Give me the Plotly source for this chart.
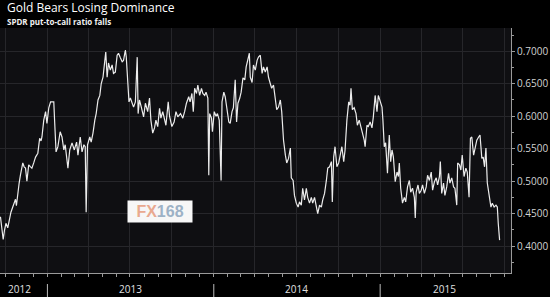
import plotly.graph_objects as go

title = "Gold Bears Losing Dominance"
subtitle = "SPDR put-to-call ratio falls"

dates = [
    "2012-09-20", "2012-09-23", "2012-09-26", "2012-09-29", "2012-10-02", "2012-10-06", "2012-10-10", "2012-10-13",
    "2012-10-17", "2012-10-21", "2012-10-23", "2012-10-25", "2012-10-28", "2012-10-31", "2012-11-03", "2012-11-06",
    "2012-11-08", "2012-11-11", "2012-11-14", "2012-11-17", "2012-11-21", "2012-11-25", "2012-11-28", "2012-12-02",
    "2012-12-06", "2012-12-11", "2012-12-15", "2012-12-18", "2012-12-20", "2012-12-24", "2012-12-28", "2012-12-31",
    "2013-01-04", "2013-01-08", "2013-01-11", "2013-01-15", "2013-01-17", "2013-01-20", "2013-01-24", "2013-01-27",
    "2013-01-29", "2013-02-02", "2013-02-06", "2013-02-09", "2013-02-13", "2013-02-15", "2013-02-19", "2013-02-24",
    "2013-03-01", "2013-03-06", "2013-03-09", "2013-03-14", "2013-03-18", "2013-03-22", "2013-03-25", "2013-03-27",
    "2013-03-30", "2013-04-04", "2013-04-07", "2013-04-11", "2013-04-15", "2013-04-18", "2013-04-22", "2013-04-26",
    "2013-04-29", "2013-05-03", "2013-05-07", "2013-05-09", "2013-05-12", "2013-05-15", "2013-05-19", "2013-05-23",
    "2013-05-26", "2013-05-30", "2013-06-03", "2013-06-06", "2013-06-10", "2013-06-14", "2013-06-17", "2013-06-21",
    "2013-06-23", "2013-06-26", "2013-06-29",
    "2013-07-02", "2013-07-06", "2013-07-09", "2013-07-13", "2013-07-17", "2013-07-19", "2013-07-22", "2013-07-26",
    "2013-07-31", "2013-08-04", "2013-08-09", "2013-08-13", "2013-08-16", "2013-08-20", "2013-08-24", "2013-08-27",
    "2013-08-31", "2013-09-04", "2013-09-07", "2013-09-11", "2013-09-14", "2013-09-18", "2013-09-23", "2013-09-26",
    "2013-10-01", "2013-10-06", "2013-10-10", "2013-10-14", "2013-10-20", "2013-10-25", "2013-10-29", "2013-11-02",
    "2013-11-07", "2013-11-10", "2013-11-14", "2013-11-17", "2013-11-20", "2013-11-24", "2013-11-27", "2013-12-01",
    "2013-12-05", "2013-12-08", "2013-12-12", "2013-12-15", "2013-12-19", "2013-12-21", "2013-12-23", "2013-12-27",
    "2013-12-29", "2014-01-02", "2014-01-06", "2014-01-09", "2014-01-13", "2014-01-17", "2014-01-19", "2014-01-23",
    "2014-01-26", "2014-01-30", "2014-02-03", "2014-02-06", "2014-02-10", "2014-02-13", "2014-02-17", "2014-02-20",
    "2014-02-23", "2014-02-27", "2014-03-02", "2014-03-06", "2014-03-10", "2014-03-13", "2014-03-16", "2014-03-20",
    "2014-03-22", "2014-03-26", "2014-03-29", "2014-04-02", "2014-04-06", "2014-04-09", "2014-04-13", "2014-04-17",
    "2014-04-20", "2014-04-24", "2014-04-28", "2014-05-01", "2014-05-05", "2014-05-08", "2014-05-12", "2014-05-16",
    "2014-05-19", "2014-05-23", "2014-05-27", "2014-05-30", "2014-06-03", "2014-06-07", "2014-06-10", "2014-06-14",
    "2014-06-18", "2014-06-20", "2014-06-24", "2014-06-27", "2014-07-01", "2014-07-05", "2014-07-08", "2014-07-12",
    "2014-07-15", "2014-07-19", "2014-07-23", "2014-07-26", "2014-07-30", "2014-08-03", "2014-08-06", "2014-08-10",
    "2014-08-14", "2014-08-17", "2014-08-21", "2014-08-25", "2014-08-28", "2014-09-01", "2014-09-05", "2014-09-08",
    "2014-09-12", "2014-09-16", "2014-09-18", "2014-09-21", "2014-09-24", "2014-09-28", "2014-10-02", "2014-10-05",
    "2014-10-09", "2014-10-13", "2014-10-16", "2014-10-20", "2014-10-24", "2014-10-27", "2014-10-29", "2014-11-01",
    "2014-11-05", "2014-11-09", "2014-11-12", "2014-11-16", "2014-11-20", "2014-11-23", "2014-11-27", "2014-11-29",
    "2014-12-03", "2014-12-06", "2014-12-10", "2014-12-14", "2014-12-17",
    "2014-12-21", "2014-12-25", "2014-12-28", "2015-01-01", "2015-01-05", "2015-01-07", "2015-01-10", "2015-01-13",
    "2015-01-17", "2015-01-21", "2015-01-24", "2015-01-27", "2015-01-30", "2015-02-03", "2015-02-07", "2015-02-10",
    "2015-02-12", "2015-02-15", "2015-02-19", "2015-02-23", "2015-02-26", "2015-03-02", "2015-03-06", "2015-03-09",
    "2015-03-13", "2015-03-17", "2015-03-19", "2015-03-21", "2015-03-25", "2015-03-28", "2015-04-01", "2015-04-04",
    "2015-04-08", "2015-04-12", "2015-04-15", "2015-04-19", "2015-04-23", "2015-04-26", "2015-04-30", "2015-05-04",
    "2015-05-07", "2015-05-11", "2015-05-13", "2015-05-16", "2015-05-20", "2015-05-23", "2015-05-27", "2015-05-31",
    "2015-06-03", "2015-06-07", "2015-06-11", "2015-06-14", "2015-06-18", "2015-06-20", "2015-06-24", "2015-06-27",
    "2015-06-30", "2015-07-04", "2015-07-08", "2015-07-11", "2015-07-15", "2015-07-18", "2015-07-21", "2015-07-25",
    "2015-07-28", "2015-08-01", "2015-08-05", "2015-08-08", "2015-08-12", "2015-08-15", "2015-08-18", "2015-08-21",
    "2015-08-24", "2015-08-28", "2015-09-01", "2015-09-04", "2015-09-08", "2015-09-12", "2015-09-15", "2015-09-17",
    "2015-09-20",
]

ratio = [
    0.445, 0.430, 0.410, 0.425, 0.435, 0.428, 0.445, 0.452,
    0.460, 0.468, 0.472, 0.462, 0.485, 0.497, 0.510, 0.520,
    0.528, 0.522, 0.520, 0.500, 0.525, 0.522, 0.520, 0.528,
    0.537, 0.543, 0.566, 0.562, 0.568, 0.594, 0.607, 0.589,
    0.613, 0.622, 0.622, 0.622, 0.590, 0.545, 0.553, 0.565,
    0.576, 0.568, 0.548, 0.556, 0.532, 0.520, 0.548, 0.559,
    0.548, 0.560, 0.540, 0.568, 0.545, 0.556, 0.553, 0.452,
    0.556, 0.568, 0.560, 0.574, 0.594, 0.604, 0.625, 0.632,
    0.650, 0.660, 0.686, 0.699, 0.660, 0.682, 0.671, 0.679,
    0.666, 0.668, 0.694, 0.697, 0.690, 0.684, 0.686, 0.702,
    0.691, 0.656, 0.622,
    0.628, 0.620, 0.614, 0.622, 0.691, 0.604, 0.625, 0.614,
    0.599, 0.620, 0.607, 0.628, 0.594, 0.574, 0.582, 0.594,
    0.584, 0.612, 0.597, 0.607, 0.599, 0.586, 0.622, 0.600,
    0.584, 0.591, 0.607, 0.599, 0.604, 0.597, 0.607, 0.620,
    0.630, 0.622, 0.635, 0.607, 0.643, 0.635, 0.648, 0.632,
    0.643, 0.635, 0.632, 0.637, 0.628, 0.509, 0.604, 0.597,
    0.576, 0.607, 0.600, 0.604, 0.594, 0.501, 0.622, 0.637,
    0.630, 0.607, 0.591, 0.589, 0.607, 0.613, 0.656, 0.591,
    0.620, 0.628, 0.637, 0.659, 0.656, 0.676, 0.686, 0.697,
    0.660, 0.652, 0.679, 0.671, 0.686, 0.691, 0.694, 0.666,
    0.676, 0.668, 0.676, 0.660, 0.650, 0.643, 0.648, 0.628,
    0.610, 0.614, 0.625, 0.607, 0.563, 0.540, 0.528, 0.535,
    0.551, 0.505, 0.501, 0.478, 0.466, 0.460, 0.468, 0.463,
    0.489, 0.471, 0.489, 0.475, 0.466, 0.475, 0.466, 0.475,
    0.460, 0.450, 0.463, 0.460, 0.471, 0.481, 0.501, 0.520,
    0.522, 0.530, 0.468, 0.537, 0.553, 0.522, 0.528, 0.540,
    0.553, 0.530, 0.548, 0.594, 0.622, 0.617, 0.643, 0.610,
    0.613, 0.604, 0.586, 0.594, 0.584, 0.574, 0.563, 0.553,
    0.586, 0.584, 0.591, 0.582, 0.599,
    0.632, 0.607, 0.632, 0.622, 0.614, 0.594, 0.553, 0.559,
    0.512, 0.571, 0.530, 0.548, 0.537, 0.499, 0.514, 0.507,
    0.528, 0.489, 0.466, 0.475, 0.468, 0.491, 0.501, 0.483,
    0.489, 0.475, 0.443, 0.483, 0.494, 0.481, 0.486, 0.494,
    0.481, 0.491, 0.509, 0.501, 0.514, 0.486, 0.499, 0.505,
    0.494, 0.507, 0.530, 0.481, 0.497, 0.478, 0.491, 0.512,
    0.497, 0.505, 0.491, 0.489, 0.463, 0.528, 0.525, 0.517,
    0.540, 0.507, 0.520, 0.514, 0.475, 0.566, 0.568, 0.540,
    0.548, 0.563, 0.568, 0.571, 0.535, 0.537, 0.522, 0.551,
    0.497, 0.475, 0.460, 0.466, 0.460, 0.463, 0.460, 0.435,
    0.409,
]

y_ticks = [0.40, 0.45, 0.50, 0.55, 0.60, 0.65, 0.70]
year_labels = ["2012", "2013", "2014", "2015"]
year_label_dates = ["2012-11-01", "2013-07-02", "2014-07-02", "2015-05-23"]
year_bounds = ["2013-01-01", "2014-01-01", "2015-01-01"]

fig = go.Figure()
fig.add_trace(go.Scatter(
    x=dates, y=ratio, mode="lines",
    line=dict(color="#ececec", width=1.2),
    hoverinfo="skip", showlegend=False,
))

annotations = [
    dict(text=title, xref="paper", yref="paper", x=0.0098, y=1.0825,
         xanchor="left", yanchor="middle", showarrow=False,
         font=dict(family="Open Sans", size=12, color="#ffffff")),
    dict(text="<b>" + subtitle + "</b>", xref="paper", yref="paper", x=0.0098, y=1.027,
         xanchor="left", yanchor="middle", showarrow=False,
         font=dict(family="Open Sans", size=8, color="#f0f0f0")),
    dict(text="<b><span style='color:#e9a98f'>FX</span><span style='color:#9db2c6'>168</span></b>",
         xref="paper", yref="paper", x=0.313, y=0.251, xanchor="center", yanchor="middle",
         showarrow=False, bgcolor="#f7f7f7", borderpad=2, width=60, height=17,
         font=dict(family="Liberation Sans", size=16)),
]
for lab, d in zip(year_labels, year_label_dates):
    annotations.append(dict(text=lab, x=d, xref="x", yref="paper", y=-0.066,
                            xanchor="center", yanchor="middle", showarrow=False,
                            font=dict(family="Open Sans", size=10, color="#e0e0e0")))

shapes = [dict(type="line", xref="x", yref="paper", x0=b, x1=b, y0=-0.045, y1=-0.11,
               line=dict(color="#bbbbbb", width=1)) for b in year_bounds]

fig.update_layout(
    width=550, height=297,
    margin=dict(l=0, r=39, t=28, b=24),
    paper_bgcolor="#000000",
    plot_bgcolor="#0f0f12",
    annotations=annotations,
    shapes=shapes,
    xaxis=dict(
        type="date", range=["2012-09-19", "2015-10-15"],
        showline=True, linecolor="#9a9a9a", linewidth=1,
        dtick="M3", tick0="2000-01-01",
        ticks="outside", ticklen=3, tickcolor="#9a9a9a",
        showticklabels=False,
        showgrid=True, gridcolor="#26262a", gridwidth=1,
        minor=dict(dtick="M1", ticks="outside", ticklen=3, tickcolor="#9a9a9a", showgrid=False),
        zeroline=False, fixedrange=True,
    ),
    yaxis=dict(
        side="right", range=[0.3584, 0.7359],
        tickvals=y_ticks, tickformat=".4f",
        ticks="outside", ticklen=3, tickcolor="#9a9a9a",
        showline=True, linecolor="#9a9a9a", linewidth=1,
        showgrid=True, gridcolor="#26262a", gridwidth=1,
        minor=dict(dtick=0.025, tick0=0.0, ticks="outside", ticklen=2, tickcolor="#9a9a9a", showgrid=False),
        tickfont=dict(family="Open Sans", size=10, color="#d2d2d2"),
        zeroline=False, fixedrange=True,
    ),
)

fig.write_html("out.html")
